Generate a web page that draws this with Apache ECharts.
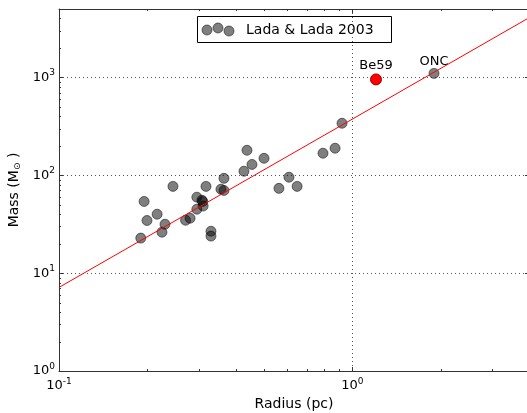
<!DOCTYPE html>
<html>
<head>
<meta charset="utf-8">
<script src="https://cdn.jsdelivr.net/npm/echarts@6/dist/echarts.min.js"></script>
<style>
  html, body { margin: 0; padding: 0; background: #fff; overflow: hidden; }
  #chart { width: 527px; height: 413px; }
</style>
</head>
<body>
<div id="chart"></div>
<script>
// Embedded cluster radius (pc) and mass (solar masses)
const clusterRadius = [0.190, 0.195, 0.1995, 0.216, 0.2244, 0.2298, 0.2446, 0.270, 0.2797, 0.295,
  0.295, 0.310, 0.307, 0.309, 0.317, 0.3296, 0.3296, 0.3565, 0.365, 0.365,
  0.427, 0.4373, 0.4548, 0.4998, 0.562, 0.608, 0.648, 0.794, 0.873, 0.922, 1.898];
const clusterMass = [22.8, 54, 34.5, 40, 26.2, 31.6, 77, 34.7, 36.4, 59.7,
  45, 48.5, 55.6, 54, 77, 26.8, 23.9, 72, 93, 70,
  110, 180, 129, 149, 73.5, 95.5, 77, 168, 189, 340, 1099];
const clusterNames = ['', '', '', '', '', '', '', '', '', '',
  '', '', '', '', '', '', '', '', '', '',
  '', '', '', '', '', '', '', '', '', '', 'ONC'];

// Be59
const be59Radius = [1.2035];
const be59Mass = [954];

// Mass-radius relation, endpoints across the plotted range
const fitRadius = [0.1, 4];
const fitMass = [7.15, 4070];

// Axis ranges and labelled decades
const xRange = [0.1, 4];
const yRange = [1, 5000];
const xTickExponents = [-1, 0];
const yTickExponents = [0, 1, 2, 3];

const FONT = 'DejaVu Sans';

function powLabel(v, exps) {
  const e = Math.round(Math.log10(v));
  if (Math.abs(Math.log10(v) - e) > 1e-6 || exps.indexOf(e) < 0) return '';
  return '{b|10}{s|' + e + '}';
}
const labelRich = {
  b: { fontFamily: FONT, fontSize: 13, color: '#000' },
  s: { fontFamily: FONT, fontSize: 9, color: '#000', padding: [0, 0, 9, 0] }
};

// minor tick positions (2..9 within each decade)
function minorValues(lo, hi) {
  const out = [];
  for (let d = Math.floor(Math.log10(lo)); d <= Math.ceil(Math.log10(hi)); d++) {
    for (let m = 2; m <= 9; m++) {
      const v = m * Math.pow(10, d);
      if (v > lo && v < hi) out.push(v);
    }
  }
  return out;
}
const minorTicks = minorValues(xRange[0], xRange[1]).map(v => ({ axis: 'x', v }))
  .concat(minorValues(yRange[0], yRange[1]).map(v => ({ axis: 'y', v })));

const chart = echarts.init(document.getElementById('chart'), null, { renderer: 'canvas' });

const clusterData = clusterRadius.map((r, i) => {
  const item = { value: [r, clusterMass[i]] };
  if (clusterNames[i]) {
    item.label = { show: true, formatter: clusterNames[i], position: 'top', distance: 0,
      fontFamily: FONT, fontSize: 13, color: '#000' };
  }
  return item;
});

const spine = { show: true, lineStyle: { color: '#333', width: 1 } };
const majorTick = { show: true, inside: true, length: 4, lineStyle: { color: '#333', width: 1 } };
const grid = { type: [1, 3], color: '#555', width: 1 };

chart.setOption({
  animation: false,
  backgroundColor: '#fff',
  grid: { left: 59, top: 9, width: 470, height: 362, containLabel: false, outerBoundsMode: 'none' },
  xAxis: [{
    type: 'log', logBase: 10, min: xRange[0], max: xRange[1], position: 'bottom',
    axisLine: spine, axisTick: majorTick,
    splitLine: { show: true, lineStyle: grid },
    axisLabel: { formatter: v => powLabel(v, xTickExponents), rich: labelRich, margin: 6,
      showMaxLabel: false },
    name: 'Radius (pc)', nameLocation: 'middle', nameGap: 26,
    nameTextStyle: { fontFamily: FONT, fontSize: 14, color: '#000' }
  }, {
    type: 'log', logBase: 10, min: xRange[0], max: xRange[1], position: 'top',
    axisLine: spine, axisTick: majorTick, axisLabel: { show: false }, splitLine: { show: false }
  }],
  yAxis: [{
    type: 'log', logBase: 10, min: yRange[0], max: yRange[1], position: 'left',
    axisLine: spine, axisTick: majorTick,
    splitLine: { show: true, lineStyle: grid },
    axisLabel: { formatter: v => powLabel(v, yTickExponents), rich: labelRich, margin: 4,
      showMaxLabel: false },
    name: 'Mass (M{s|⊙} )', nameLocation: 'middle', nameGap: 28, nameRotate: 90,
    nameTextStyle: { fontFamily: FONT, fontSize: 14, color: '#000',
      rich: { s: { fontFamily: FONT, fontSize: 9, color: '#000', padding: [5, 0, 0, 0] } } }
  }, {
    type: 'log', logBase: 10, min: yRange[0], max: yRange[1], position: 'right',
    axisLine: spine, axisTick: majorTick, axisLabel: { show: false }, splitLine: { show: false }
  }],
  series: [{
    type: 'custom',
    data: minorTicks.map(t => t.axis === 'x' ? [t.v, yRange[0]] : [xRange[0], t.v]),
    silent: true,
    clip: false,
    z: 5,
    renderItem: function (params, api) {
      const t = minorTicks[params.dataIndex];
      const style = { stroke: '#333', lineWidth: 1 };
      if (t.axis === 'x') {
        const b = api.coord([t.v, yRange[0]]);
        const top = api.coord([t.v, yRange[1]]);
        const x = Math.round(b[0]) + 0.5;
        return { type: 'group', children: [
          { type: 'line', shape: { x1: x, y1: b[1], x2: x, y2: b[1] - 2 }, style },
          { type: 'line', shape: { x1: x, y1: top[1], x2: x, y2: top[1] + 2 }, style }
        ] };
      }
      const l = api.coord([xRange[0], t.v]);
      const r = api.coord([xRange[1], t.v]);
      const y = Math.round(l[1]) + 0.5;
      return { type: 'group', children: [
        { type: 'line', shape: { x1: l[0], y1: y, x2: l[0] + 2, y2: y }, style },
        { type: 'line', shape: { x1: r[0], y1: y, x2: r[0] - 2, y2: y }, style }
      ] };
    }
  }, {
    name: 'Lada & Lada 2003',
    type: 'scatter',
    data: clusterData,
    symbolSize: 10,
    z: 2,
    itemStyle: { color: 'rgba(0,0,0,0.5)', borderColor: 'rgba(0,0,0,0.5)', borderWidth: 1, opacity: 1 }
  }, {
    type: 'line',
    data: fitRadius.map((r, i) => [r, fitMass[i]]),
    showSymbol: false,
    symbol: 'none',
    z: 3,
    lineStyle: { color: '#ff0000', width: 1 }
  }, {
    type: 'scatter',
    data: be59Radius.map((r, i) => [r, be59Mass[i]]),
    symbolSize: 11,
    z: 4,
    itemStyle: { color: '#ff0000', borderColor: '#a00000', borderWidth: 1, opacity: 1 },
    label: { show: true, formatter: 'Be59', position: 'top', distance: 1,
      fontFamily: FONT, fontSize: 13, color: '#000' }
  }],
  graphic: [{
    type: 'group',
    left: 197, top: 16,
    z: 100,
    children: [
      { type: 'rect', shape: { x: 0.5, y: 0.5, width: 194, height: 26 },
        style: { fill: '#fff', stroke: '#000', lineWidth: 1 } },
      { type: 'circle', shape: { cx: 10, cy: 14, r: 5 },
        style: { fill: 'rgba(0,0,0,0.5)', stroke: 'rgba(0,0,0,0.5)', lineWidth: 1 } },
      { type: 'circle', shape: { cx: 21, cy: 12, r: 5 },
        style: { fill: 'rgba(0,0,0,0.5)', stroke: 'rgba(0,0,0,0.5)', lineWidth: 1 } },
      { type: 'circle', shape: { cx: 32, cy: 15, r: 5 },
        style: { fill: 'rgba(0,0,0,0.5)', stroke: 'rgba(0,0,0,0.5)', lineWidth: 1 } },
      { type: 'text', x: 49, y: 14,
        style: { text: 'Lada & Lada 2003', fontFamily: FONT, fontSize: 14, fill: '#000',
          verticalAlign: 'middle', align: 'left' } }
    ]
  }]
});
</script>
</body>
</html>
